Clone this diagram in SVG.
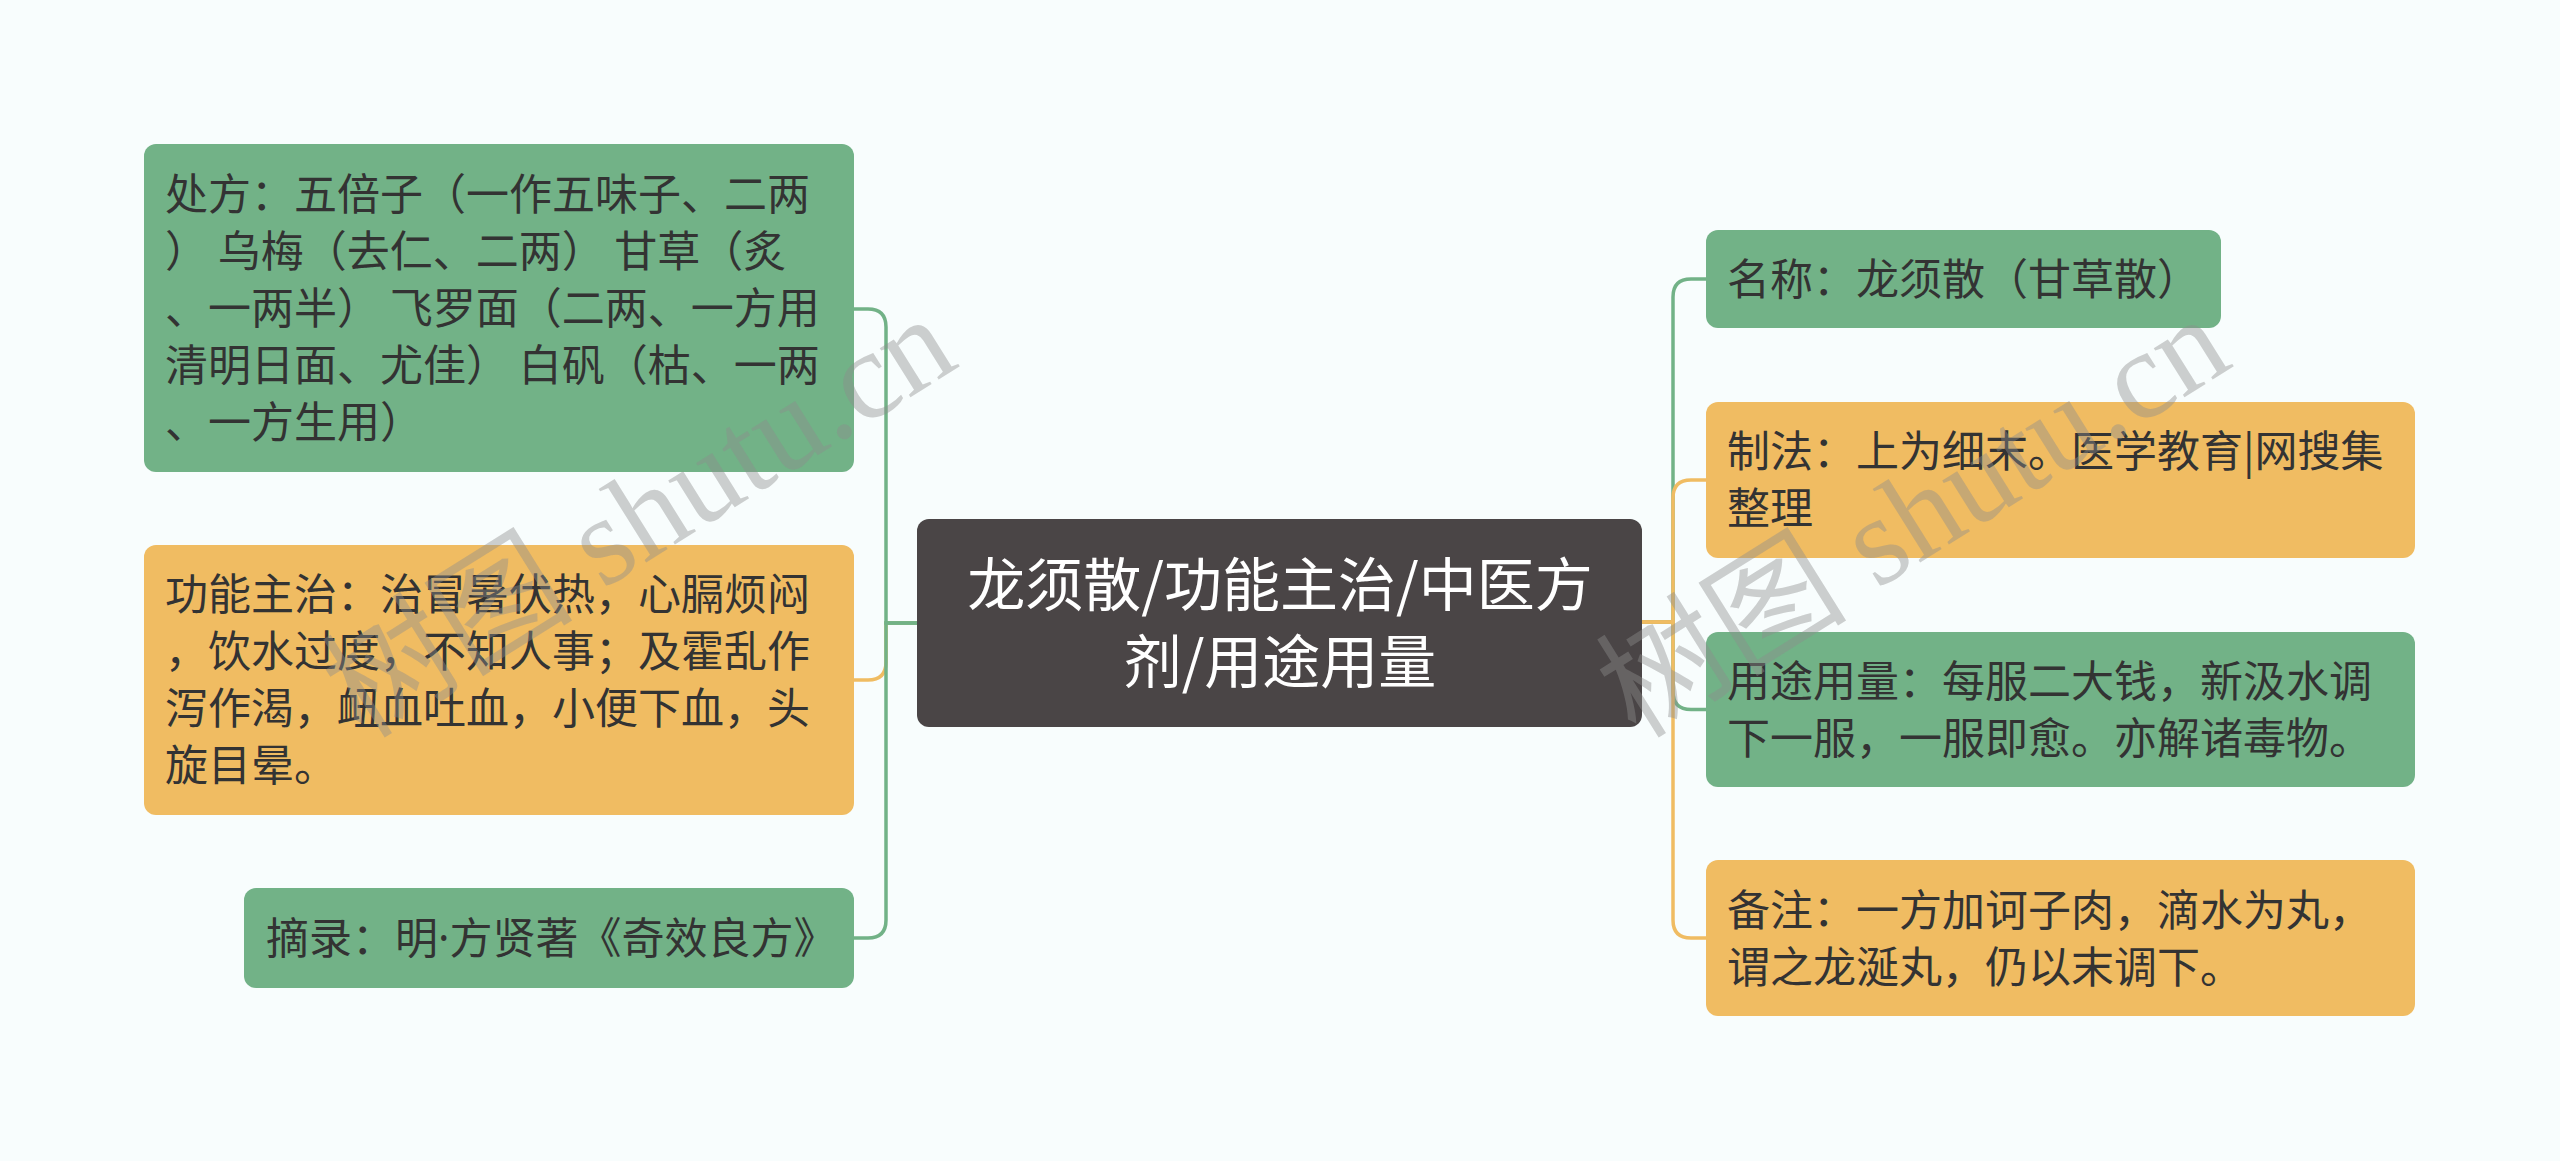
<svg xmlns="http://www.w3.org/2000/svg" width="2560" height="1161" viewBox="0 0 2560 1161">
<style>
.bg{fill:#f8fdfd}
.g{fill:#72b287}
.o{fill:#f0bc62}
.c{fill:#4a4546}
.t{font-family:"Noto Sans CJK SC","Noto Sans",sans-serif;font-size:43px;fill:#333333}
.lat{font-family:"Noto Sans",sans-serif}
.ct{font-family:"Noto Sans CJK SC","Noto Sans",sans-serif;font-size:58px;fill:#ffffff;text-anchor:middle}
.lg{fill:none;stroke:#72b287;stroke-width:3.5}
.lo{fill:none;stroke:#f0bc62;stroke-width:3.5}
.wm{font-family:"Liberation Serif","Noto Sans CJK SC",serif;font-size:126px;fill:#8c8c8c;fill-opacity:0.42}
</style>
<rect class="bg" x="0" y="0" width="2560" height="1161"/>
<g id="connectors">
<path class="lo" d="M917,623 H886 V662 Q886,680 868,680 H854"/>
<path class="lg" d="M917,623 H886 V327 Q886,309 868,309 H854"/>
<path class="lg" d="M917,623 H886 V920 Q886,938 868,938 H854"/>
<path class="lg" d="M1642,622 H1673 V297 Q1673,279 1691,279 H1706"/>
<path class="lg" d="M1642,622 H1673 V691.5 Q1673,709.5 1691,709.5 H1706"/>
<path class="lo" d="M1642,622 H1673 V498 Q1673,480 1691,480 H1706"/>
<path class="lo" d="M1642,622 H1673 V920 Q1673,938 1691,938 H1706"/>
</g>
<g id="center">
<rect class="c" x="917" y="519" width="725" height="208" rx="12"/>
<text class="ct" x="1280" y="606">龙须散/功能主治/中医方</text>
<text class="ct" x="1280" y="683">剂/用途用量</text>
</g>
<g id="chufang">
<rect class="g" x="144" y="144" width="710" height="328" rx="12"/>
<text class="t" x="165" y="210">处方：五倍子（一作五味子、二两</text>
<text class="t" x="165" y="267">） 乌梅（去仁、二两） 甘草（炙</text>
<text class="t" x="165" y="324">、一两半） 飞罗面（二两、一方用</text>
<text class="t" x="165" y="381">清明日面、尤佳） 白矾（枯、一两</text>
<text class="t" x="165" y="438">、一方生用）</text>
</g>
<g id="gongneng">
<rect class="o" x="144" y="545" width="710" height="270" rx="12"/>
<text class="t" x="165" y="610">功能主治：治冒暑伏热，心膈烦闷</text>
<text class="t" x="165" y="667">，饮水过度，不知人事；及霍乱作</text>
<text class="t" x="165" y="724">泻作渴，衄血吐血，小便下血，头</text>
<text class="t" x="165" y="781">旋目晕。</text>
</g>
<g id="zhailu">
<rect class="g" x="244" y="888" width="610" height="100" rx="12"/>
<text class="t" x="266" y="954">摘录：明<tspan class="lat">·</tspan>方贤著《奇效良方》</text>
</g>
<g id="mingcheng">
<rect class="g" x="1706" y="230" width="515" height="98" rx="12"/>
<text class="t" x="1727" y="295">名称：龙须散（甘草散）</text>
</g>
<g id="zhifa">
<rect class="o" x="1706" y="402" width="709" height="156" rx="12"/>
<text class="t" x="1727" y="467">制法：上为细末。医学教育|网搜集</text>
<text class="t" x="1727" y="524">整理</text>
</g>
<g id="yongtu">
<rect class="g" x="1706" y="632" width="709" height="155" rx="12"/>
<text class="t" x="1727" y="697">用途用量：每服二大钱，新汲水调</text>
<text class="t" x="1727" y="754">下一服，一服即愈。亦解诸毒物。</text>
</g>
<g id="beizhu">
<rect class="o" x="1706" y="860" width="709" height="156" rx="12"/>
<text class="t" x="1727" y="926">备注：一方加诃子肉，滴水为丸，</text>
<text class="t" x="1727" y="983">谓之龙涎丸，仍以末调下。</text>
</g>
<g id="watermarks">
<text class="wm" transform="translate(362,740) rotate(-32)">树图 shutu.cn</text>
<text class="wm" transform="translate(1636,740) rotate(-32)">树图 shutu.cn</text>
</g>
</svg>
